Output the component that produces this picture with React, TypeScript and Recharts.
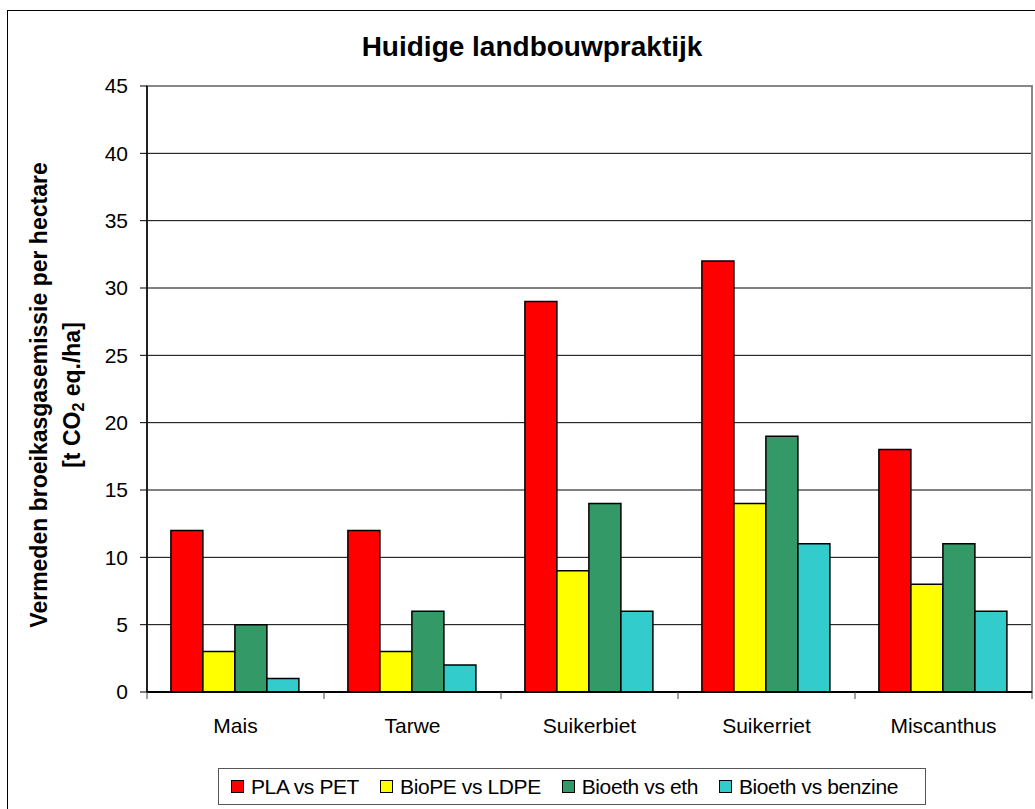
import React from 'react';
import { BarChart, Bar, XAxis, YAxis, CartesianGrid, ReferenceArea } from 'recharts';

const categories = ['Mais', 'Tarwe', 'Suikerbiet', 'Suikerriet', 'Miscanthus'];
const plaVsPet = [12, 12, 29, 32, 18];
const biopeVsLdpe = [3, 3, 9, 14, 8];
const bioethVsEth = [5, 6, 14, 19, 11];
const bioethVsBenzine = [1, 2, 6, 11, 6];
const yTicks = [0, 5, 10, 15, 20, 25, 30, 35, 40, 45];

const seriesNames = ['PLA vs PET', 'BioPE vs LDPE', 'Bioeth vs eth', 'Bioeth vs benzine'];
const seriesKeys = ['pla', 'biope', 'eth', 'benz'];
const seriesColors = ['#FF0000', '#FFFF00', '#339966', '#33CCCC'];
const seriesValues = [plaVsPet, biopeVsLdpe, bioethVsEth, bioethVsBenzine];

const title = 'Huidige landbouwpraktijk';
const yLabel1 = 'Vermeden broeikasgasemissie per hectare';

const data = categories.map((c, i) => {
  const row: any = { name: c };
  seriesKeys.forEach((k, s) => { row[k] = seriesValues[s][i]; });
  return row;
});

const FONT = '"Liberation Sans", Arial, Helvetica, sans-serif';
const CHART_W = 1035;
const MARGIN_L = 147;
const MARGIN_R = 3;

const YLabel = (props: any) => {
  const vb = props.viewBox || { x: 0, y: 0, width: 0, height: 0 };
  const cy = vb.y + vb.height / 2 + 6;
  return (
    <g fontFamily={FONT} fontWeight="bold" fontSize={23} fill="#000">
      <text x={47} y={cy} transform={`rotate(-90, 47, ${cy})`} textAnchor="middle">{yLabel1}</text>
      <text x={80} y={cy} transform={`rotate(-90, 80, ${cy})`} textAnchor="middle">
        <tspan>[t CO</tspan>
        <tspan fontSize={16} dy={4}>2</tspan>
        <tspan dy={-4}> eq./ha]</tspan>
      </text>
    </g>
  );
};

const CatTick = (props: any) => {
  const { x, y, payload, index, visibleTicksCount } = props;
  const count = visibleTicksCount || categories.length;
  const band = (CHART_W - MARGIN_L - MARGIN_R) / count;
  return (
    <g>
      <line x1={x - band / 2} x2={x - band / 2} y1={y} y2={y + 7} stroke="#444" strokeWidth={1} />
      {index === count - 1 && (
        <line x1={x + band / 2} x2={x + band / 2} y1={y} y2={y + 7} stroke="#444" strokeWidth={1} />
      )}
      <text x={x} y={y + 41} textAnchor="middle" fontSize={21} fill="#000" fontFamily={FONT}>{payload.value}</text>
    </g>
  );
};

export default function App() {
  return (
    <div style={{ position: 'absolute', left: 0, top: 0, width: 1035, height: 809, overflow: 'hidden', background: '#fff', fontFamily: FONT }}>
      <div style={{ position: 'absolute', left: 7, top: 10, width: 1100, height: 900, border: '1px solid #000', boxSizing: 'border-box' }} />
      <div style={{ position: 'absolute', left: 0, width: 1064, top: 33, textAlign: 'center', fontSize: 28, fontWeight: 'bold', lineHeight: '28px', color: '#000' }}>{title}</div>
      <div style={{ position: 'absolute', left: 0, top: 0 }}>
        <BarChart
          width={CHART_W}
          height={809}
          data={data}
          margin={{ top: 86, right: MARGIN_R, left: 0, bottom: 0 }}
          barCategoryGap="13.5%"
          barGap={0}
        >
          <CartesianGrid xAxisId="cat" yAxisId="l" horizontal vertical={false} stroke="#000" strokeWidth={1} />
          <ReferenceArea yAxisId="l" xAxisId="cat" y1={0} y2={45} fill="none" stroke="#888" strokeWidth={2} />
          <XAxis
            xAxisId="cat"
            dataKey="name"
            height={117}
            tickLine={false}
            tickSize={0}
            tickMargin={0}
            interval={0}
            axisLine={{ stroke: '#000', strokeWidth: 2 }}
            tick={<CatTick />}
          />
          <YAxis
            yAxisId="l"
            width={MARGIN_L}
            domain={[0, 45]}
            ticks={yTicks}
            interval={0}
            tickSize={7}
            tickMargin={12}
            axisLine={{ stroke: '#000', strokeWidth: 1.5 }}
            tickLine={{ stroke: '#000' }}
            tick={{ fontSize: 21, fill: '#000', fontFamily: FONT }}
            label={<YLabel />}
          />
          {seriesKeys.map((k, s) => (
            <Bar
              key={k}
              xAxisId="cat"
              yAxisId="l"
              dataKey={k}
              name={seriesNames[s]}
              fill={seriesColors[s]}
              stroke="#000"
              strokeWidth={1.5}
              isAnimationActive={false}
            />
          ))}
        </BarChart>
      </div>
      <div style={{ position: 'absolute', left: 218, top: 768, height: 37, width: 708, boxSizing: 'border-box', border: '1px solid #555', display: 'flex', alignItems: 'center', paddingLeft: 12, fontSize: 21, color: '#000', whiteSpace: 'nowrap' }}>
        {seriesNames.map((n, s) => (
          <div key={n} style={{ display: 'flex', alignItems: 'center', marginRight: 21 }}>
            <div style={{ width: 13, height: 13, boxSizing: 'border-box', border: '1.5px solid #000', background: seriesColors[s], marginRight: 7 }} />
            <span style={{ letterSpacing: -0.4 }}>{n}</span>
          </div>
        ))}
      </div>
    </div>
  );
}
